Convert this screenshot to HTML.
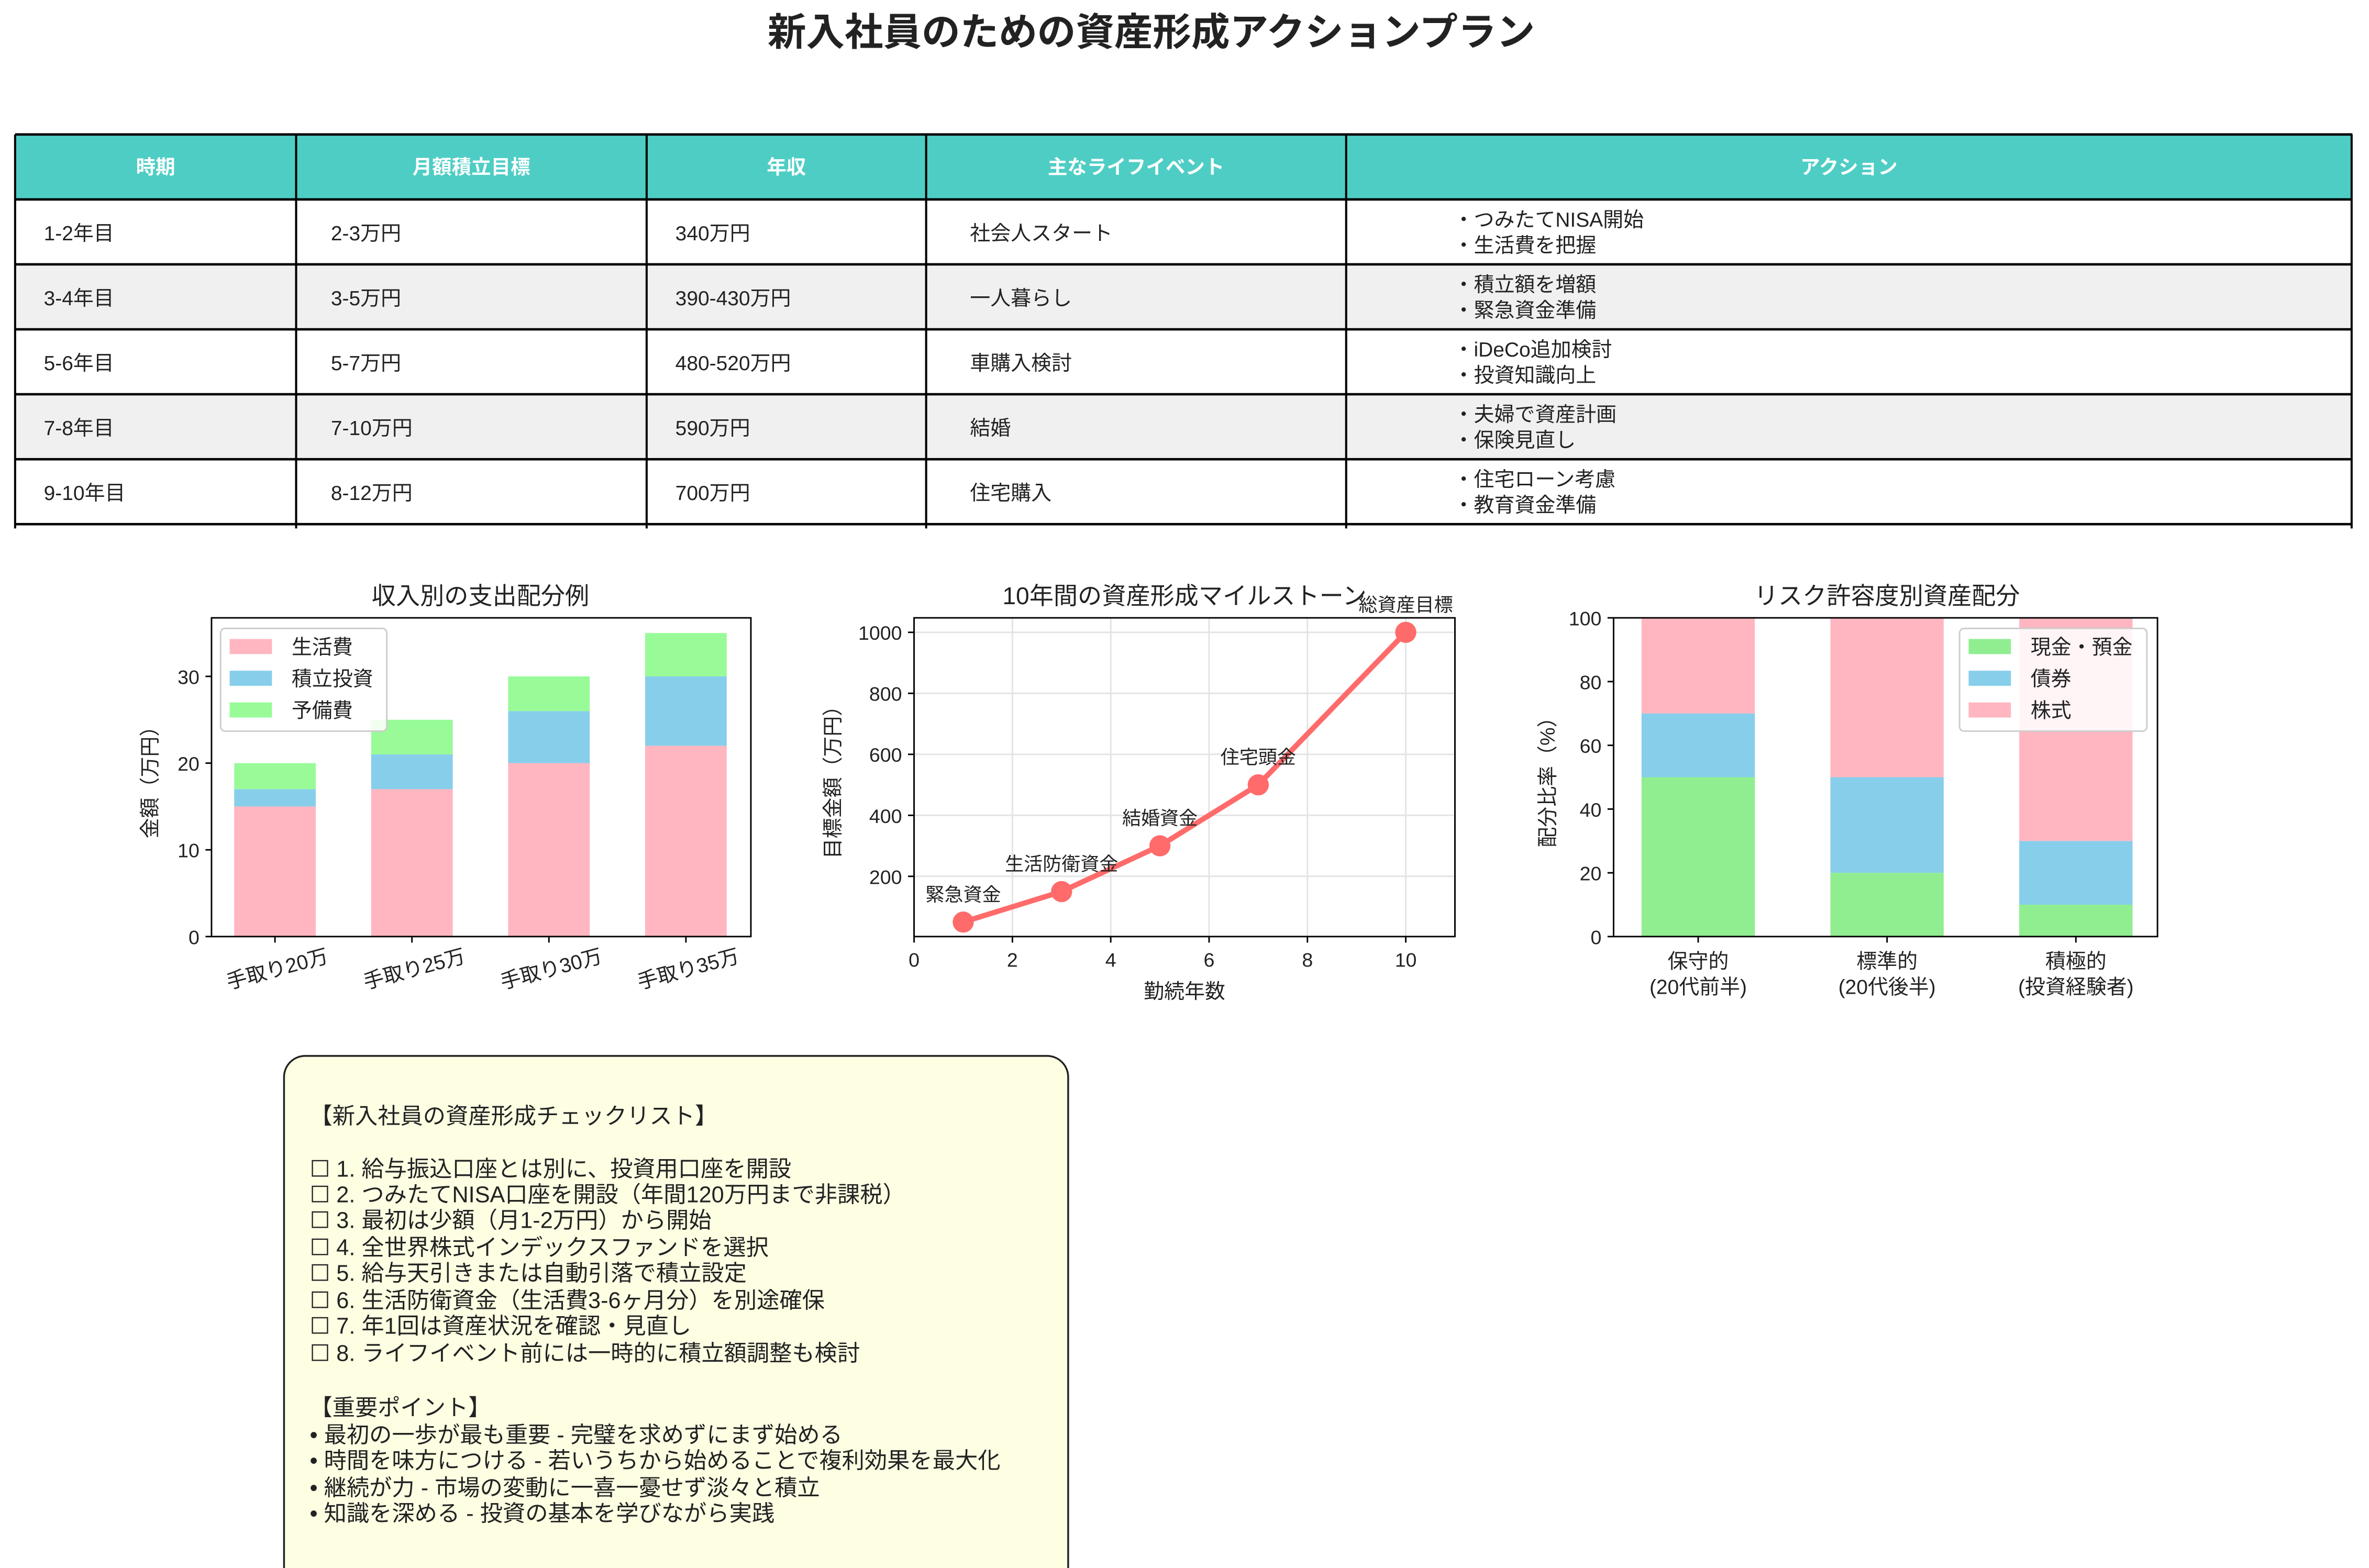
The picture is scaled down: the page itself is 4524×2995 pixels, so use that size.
<!DOCTYPE html>
<html><head><meta charset="utf-8"><style>
html,body{margin:0;padding:0;background:#fff}
svg{display:block}
text{font-family:"Liberation Sans","Noto Sans CJK JP",sans-serif;fill:#222}
</style></head><body>
<svg id="root" width="4524" height="2995" viewBox="0 0 1568 1038" xmlns="http://www.w3.org/2000/svg">
<text x="762" y="30" font-size="25.5" font-weight="bold" text-anchor="middle">新入社員のための資産形成アクションプラン</text>
<g id="table"></g>
<g id="c1"></g>
<g id="c2"></g>
<g id="c3"></g>
<g>
<rect x="188" y="699" width="519" height="360" rx="14" fill="#fefee3" stroke="#222" stroke-width="1.2"/>
<g font-size="15">
<text x="205" y="744">【新入社員の資産形成チェックリスト】</text>
<text x="205" y="779">☐ 1. 給与振込口座とは別に、投資用口座を開設</text>
<text x="205" y="796">☐ 2. つみたてNISA口座を開設（年間120万円まで非課税）</text>
<text x="205" y="813">☐ 3. 最初は少額（月1-2万円）から開始</text>
<text x="205" y="831">☐ 4. 全世界株式インデックスファンドを選択</text>
<text x="205" y="848">☐ 5. 給与天引きまたは自動引落で積立設定</text>
<text x="205" y="866">☐ 6. 生活防衛資金（生活費3-6ヶ月分）を別途確保</text>
<text x="205" y="883">☐ 7. 年1回は資産状況を確認・見直し</text>
<text x="205" y="901">☐ 8. ライフイベント前には一時的に積立額調整も検討</text>
<text x="205" y="937">【重要ポイント】</text>
<text x="205" y="955">• 最初の一歩が最も重要 - 完璧を求めずにまず始める</text>
<text x="205" y="972">• 時間を味方につける - 若いうちから始めることで複利効果を最大化</text>
<text x="205" y="990">• 継続が力 - 市場の変動に一喜一憂せず淡々と積立</text>
<text x="205" y="1007">• 知識を深める - 投資の基本を学びながら実践</text>
</g>
</g>
</svg>
<script>
const NS="http://www.w3.org/2000/svg";
function mk(p,tag,attrs,txt){const e=document.createElementNS(NS,tag);for(const k in attrs)e.setAttribute(k,attrs[k]);if(txt!==undefined)e.textContent=txt;p.appendChild(e);return e;}

// ---------- Table ----------
const headers=["時期","月額積立目標","年収","主なライフイベント","アクション"];
const rows=[
["1-2年目","2-3万円","340万円","社会人スタート",["・つみたてNISA開始","・生活費を把握"]],
["3-4年目","3-5万円","390-430万円","一人暮らし",["・積立額を増額","・緊急資金準備"]],
["5-6年目","5-7万円","480-520万円","車購入検討",["・iDeCo追加検討","・投資知識向上"]],
["7-8年目","7-10万円","590万円","結婚",["・夫婦で資産計画","・保険見直し"]],
["9-10年目","8-12万円","700万円","住宅購入",["・住宅ローン考慮","・教育資金準備"]]];
const colX=[10,196,428,613,891,1556.5];
const textX=[29,219,447,642,962];
const T=document.getElementById('table');
let hdr=mk(T,'rect',{x:10,y:89,width:1547,height:43,fill:'#4ecdc4'});


headers.forEach((h,i)=>{const t=mk(T,'text',{x:(colX[i]+colX[i+1])/2,y:115,'font-size':13,'font-weight':'bold','text-anchor':'middle',style:'fill:#fff'},h);

});
rows.forEach((r,ri)=>{const y=132+ri*43;
 const bg=mk(T,'rect',{x:10,y:y,width:1547,height:43,fill:ri%2?'#f0f0f0':'#fff'});
 
 
 r.forEach((c,ci)=>{
  if(Array.isArray(c)){c.forEach((l,li)=>{mk(T,'text',{x:textX[ci],y:y+18+li*17,'font-size':13.5},l);});}
  else{const t=mk(T,'text',{x:textX[ci],y:y+27,'font-size':13.5},c);
  
  }
 });
});
for(let i=0;i<=6;i++){const y=89+i*43;mk(T,'line',{x1:10,x2:1557,y1:y,y2:y,stroke:'#000','stroke-width':1.6});}
colX.forEach(x=>mk(T,'line',{x1:x,x2:x,y1:89,y2:349.8,stroke:'#000','stroke-width':1.4}));

// ---------- Chart 1 ----------
const c1Cats=["手取り20万","手取り25万","手取り30万","手取り35万"];
const c1Living=[15,17,20,22];
const c1Invest=[2,4,6,8];
const c1Reserve=[3,4,4,5];
const c1Ticks=[0,10,20,30];
(function(){const G=document.getElementById('c1');
 const L=140,R=497,Tp=409,B=620,ymax=36.75;
 const y=v=>B-(v/ymax)*(B-Tp);
 mk(G,'text',{x:318,y:400,'font-size':16,'text-anchor':'middle'},"収入別の支出配分例");
 c1Cats.forEach((c,i)=>{const cx=182+i*(454-182)/3,w=54;
  let base=0;
  [[c1Living,'#ffb6c1','bar-living'],[c1Invest,'#87ceeb','bar-invest'],[c1Reserve,'#98fb98','bar-reserve']].forEach(([arr,col,nm])=>{
   const b=mk(G,'rect',{x:cx-w/2,y:y(base+arr[i]),width:w,height:y(base)-y(base+arr[i]),fill:col});
   
   
   base+=arr[i];});
  mk(G,'line',{x1:cx,x2:cx,y1:B,y2:B+4,stroke:'#000'});
  mk(G,'text',{x:0,y:0,'font-size':13.5,'text-anchor':'end',transform:`translate(${cx+36},${B+17}) rotate(-15)`},c);
 });
 c1Ticks.forEach(t=>{mk(G,'line',{x1:L-4,x2:L,y1:y(t),y2:y(t),stroke:'#000'});mk(G,'text',{x:L-8,y:y(t)+5,'font-size':13,'text-anchor':'end'},t);});
 mk(G,'rect',{x:L,y:Tp,width:R-L,height:B-Tp,fill:'none',stroke:'#000','stroke-width':1});
 mk(G,'text',{x:0,y:0,'font-size':13.5,'text-anchor':'middle',transform:`translate(104,${(Tp+B)/2}) rotate(-90)`},"金額（万円）");
 const lg=mk(G,'g',{});
 mk(lg,'rect',{x:146,y:416,width:110,height:68,rx:3,fill:'#fff','fill-opacity':0.85,stroke:'#ccc'});
 [['生活費','#ffb6c1'],['積立投資','#87ceeb'],['予備費','#98fb98']].forEach(([n,c],i)=>{mk(lg,'rect',{x:152,y:423+i*21,width:28,height:10,fill:c});mk(lg,'text',{x:193,y:433+i*21,'font-size':13.5},n);});
})();

// ---------- Chart 2 ----------
const c2Years=[1,3,5,7,10];
const c2Values=[50,150,300,500,1000];
const c2Labels=["緊急資金","生活防衛資金","結婚資金","住宅頭金","総資産目標"];
const c2XTicks=[0,2,4,6,8,10];
const c2YTicks=[200,400,600,800,1000];
(function(){const G=document.getElementById('c2');
 const L=605,R=963,Tp=409,B=620,ymin=2.5,ymax=1047.5,xmax=11;
 const x=v=>L+v/xmax*(R-L), y=v=>B-(v-ymin)/(ymax-ymin)*(B-Tp);
 mk(G,'text',{x:784,y:400,'font-size':16,'text-anchor':'middle'},"10年間の資産形成マイルストーン");
 c2XTicks.forEach(t=>{mk(G,'line',{x1:x(t),x2:x(t),y1:Tp,y2:B,stroke:'#e3e3e3'});mk(G,'line',{x1:x(t),x2:x(t),y1:B,y2:B+4,stroke:'#000'});mk(G,'text',{x:x(t),y:B+20,'font-size':13,'text-anchor':'middle'},t);});
 c2YTicks.forEach(t=>{mk(G,'line',{x1:L,x2:R,y1:y(t),y2:y(t),stroke:'#e3e3e3'});mk(G,'line',{x1:L-4,x2:L,y1:y(t),y2:y(t),stroke:'#000'});mk(G,'text',{x:L-8,y:y(t)+5,'font-size':13,'text-anchor':'end'},t);});
 const ln=mk(G,'polyline',{points:c2Years.map((v,i)=>x(v)+','+y(c2Values[i])).join(' '),fill:'none',stroke:'#ff6b6b','stroke-width':3.5});
 
 
 c2Years.forEach((v,i)=>{const p=mk(G,'circle',{cx:x(v),cy:y(c2Values[i]),r:7,fill:'#ff6b6b'});
  
  
  mk(G,'text',{x:x(v),y:y(c2Values[i])-14,'font-size':12.5,'text-anchor':'middle'},c2Labels[i]);});
 mk(G,'rect',{x:L,y:Tp,width:R-L,height:B-Tp,fill:'none',stroke:'#000'});
 mk(G,'text',{x:784,y:661,'font-size':13.5,'text-anchor':'middle'},"勤続年数");
 mk(G,'text',{x:0,y:0,'font-size':13.5,'text-anchor':'middle',transform:`translate(556,${(Tp+B)/2}) rotate(-90)`},"目標金額（万円）");
})();

// ---------- Chart 3 ----------
const c3Cats=[["保守的","(20代前半)"],["標準的","(20代後半)"],["積極的","(投資経験者)"]];
const c3Cash=[50,20,10];
const c3Bond=[20,30,20];
const c3Stock=[30,50,70];
const c3Ticks=[0,20,40,60,80,100];
(function(){const G=document.getElementById('c3');
 const L=1068,R=1428,Tp=409,B=620;
 const y=v=>B-v/100*(B-Tp);
 mk(G,'text',{x:1249,y:400,'font-size':16,'text-anchor':'middle'},"リスク許容度別資産配分");
 c3Cats.forEach((c,i)=>{const cx=1124+i*125,w=75;let base=0;
  [[c3Cash,'#90ee90','bar-cash'],[c3Bond,'#87ceeb','bar-bond'],[c3Stock,'#ffb6c1','bar-stock']].forEach(([arr,col,nm])=>{
   const b=mk(G,'rect',{x:cx-w/2,y:y(base+arr[i]),width:w,height:y(base)-y(base+arr[i]),fill:col});
   
   
   base+=arr[i];});
  mk(G,'line',{x1:cx,x2:cx,y1:B,y2:B+4,stroke:'#000'});
  mk(G,'text',{x:cx,y:B+21,'font-size':13.5,'text-anchor':'middle'},c[0]);
  mk(G,'text',{x:cx,y:B+38,'font-size':13.5,'text-anchor':'middle'},c[1]);
 });
 c3Ticks.forEach(t=>{mk(G,'line',{x1:L-4,x2:L,y1:y(t),y2:y(t),stroke:'#000'});mk(G,'text',{x:L-8,y:y(t)+5,'font-size':13,'text-anchor':'end'},t);});
 mk(G,'rect',{x:L,y:Tp,width:R-L,height:B-Tp,fill:'none',stroke:'#000'});
 mk(G,'text',{x:0,y:0,'font-size':13.5,'text-anchor':'middle',transform:`translate(1029,${(Tp+B)/2}) rotate(-90)`},"配分比率（%）");
 const lg=mk(G,'g',{});
 mk(lg,'rect',{x:1297,y:416,width:124,height:68,rx:3,fill:'#fff','fill-opacity':0.85,stroke:'#ccc'});
 [['現金・預金','#90ee90'],['債券','#87ceeb'],['株式','#ffb6c1']].forEach(([n,c],i)=>{mk(lg,'rect',{x:1303,y:423+i*21,width:28,height:10,fill:c});mk(lg,'text',{x:1344,y:433+i*21,'font-size':13.5},n);});
})();
</script>
</body></html>
